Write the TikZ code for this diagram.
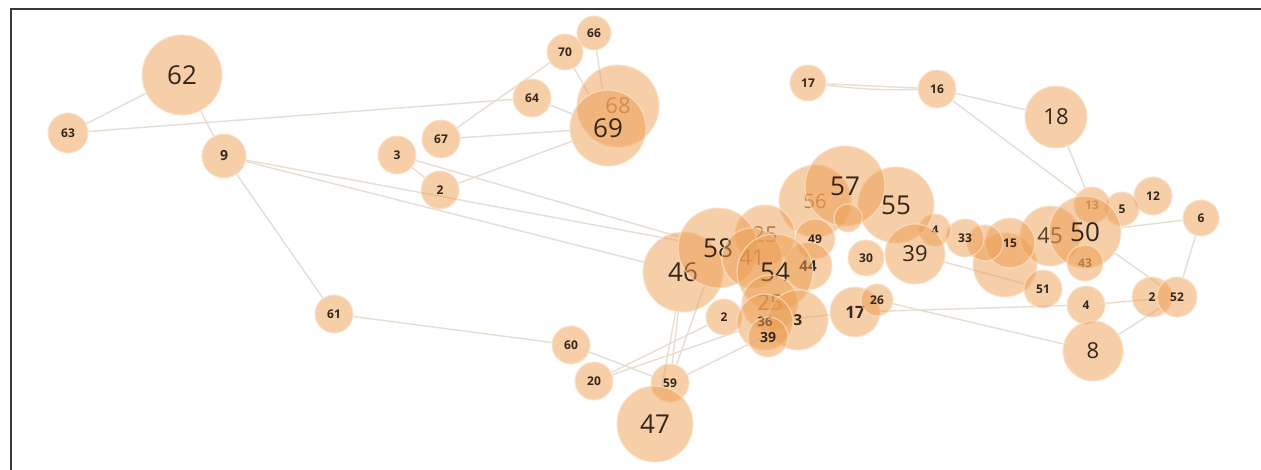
\documentclass[tikz,border=0pt]{standalone}
\usepackage{fontspec}
\setmainfont{Open Sans}
\usetikzlibrary{backgrounds}
\definecolor{nodefill}{HTML}{EE9E52}
\definecolor{ring}{HTML}{FBE3CC}
\definecolor{txt}{HTML}{35261A}
\definecolor{faint}{HTML}{B87A46}
\definecolor{edgecol}{HTML}{E7DED3}
\definecolor{framecol}{HTML}{3A3A3A}
\tikzset{
  nd/.style={circle, inner sep=0pt, fill=nodefill, fill opacity=0.5,
    draw=ring, draw opacity=0.7, line width=1.2pt, text=txt, text opacity=1,
    minimum size=#1},
  sm/.style={font=\fontsize{12}{12}\selectfont\bfseries},
  md/.style={font=\fontsize{22}{22}\selectfont},
  bg/.style={font=\fontsize{26}{26}\selectfont},
  ft/.style={text=faint},
  edge/.style={draw=edgecol, line width=1.4pt},
}
\begin{document}
\begin{tikzpicture}[x=1pt,y=-1pt]
\useasboundingbox (0,0) rectangle (1261,470);
% nodes
\node[nd=80,bg] (n62) at (182,75) {62};
\node[nd=40,sm] (n63) at (68,133) {63};
\node[nd=44,sm,font=\fontsize{14}{14}\selectfont\bfseries] (n9) at (224,156) {9};
\node[nd=38,sm] (n3) at (397,155) {3};
\node[nd=38,sm] (n67) at (441,139) {67};
\node[nd=38,sm] (n2a) at (440,190) {2};
\node[nd=38,sm] (n64) at (532,98) {64};
\node[nd=36,sm] (n70) at (565,52) {70};
\node[nd=34,sm] (n66) at (594,33) {66};
\node[nd=82,md,ft] (n68) at (618,106) {68};
\node[nd=76,bg] (n69) at (608,128) {69};
\node[nd=36,sm] (n17) at (808,83) {17};
\node[nd=38,sm] (n16) at (937,89) {16};
\node[nd=62,md] (n18) at (1056,117) {18};
\node[nd=38,sm] (n12) at (1153,196) {12};
\node[nd=36,sm] (n6) at (1201,218) {6};
\node[nd=34,sm] (n5) at (1122,209) {5};
\node[nd=36,sm,ft] (n13) at (1092,205) {13};
\node[nd=64] (n15b) at (1005,265) {};
\node[nd=60,md,text=txt!70!faint] (n45) at (1050,236) {45};
\node[nd=72,bg] (n50) at (1085,232) {50};
\node[nd=36,sm,ft] (n43) at (1085,263) {43};
\node[nd=50,sm] (n15) at (1010,243) {15};
\node[nd=36] (n32) at (985,243) {};
\node[nd=38,sm] (n33) at (965,238) {33};
\node[nd=32,sm] (n34) at (935,230) {4};
\node[nd=76,bg] (n55) at (896,205) {55};
\node[nd=60,md] (n39) at (915,254) {39};
\node[nd=72,bg,ft,font=\fontsize{20}{20}\selectfont] (n56) at (815,201) {56};
\node[nd=80,bg] (n57) at (845,186) {57};
\node[nd=28] (n48) at (848,218) {};
\node[nd=36,sm] (n30) at (866,258) {30};
\node[nd=40,sm] (n49) at (815,239) {49};
\node[nd=48,sm,font=\fontsize{15}{15}\selectfont\bfseries] (n44) at (808,266) {44};
\node[nd=60,md,ft] (n25) at (765,235) {25};
\node[nd=80,bg] (n46) at (683,272) {46};
\node[nd=80,bg] (n58) at (718,248) {58};
\node[nd=60,md,ft] (n41) at (752,258) {41};
\node[nd=76,bg] (n54) at (775,272) {54};
\node[nd=36,sm] (n2b) at (724,317) {2};
\node[nd=56,md,ft] (n25b) at (770,303) {25};
\node[nd=60,sm,font=\fontsize{15}{15}\selectfont\bfseries] (n35) at (798,320) {3};
\node[nd=56,sm,font=\fontsize{13}{13}\selectfont\bfseries] (n36) at (765,322) {36};
\node[nd=40,sm,font=\fontsize{14}{14}\selectfont\bfseries] (n39b) at (768,337) {39};
\node[nd=50,sm,font=\fontsize{17}{17}\selectfont\bfseries] (n17b) at (855,312) {17};
\node[nd=32,sm] (n26) at (877,300) {26};
\node[nd=38,sm] (n51) at (1043,289) {51};
\node[nd=38,sm] (n4) at (1086,305) {4};
\node[nd=60,md] (n8) at (1093,351) {8};
\node[nd=40,sm] (n2c) at (1152,297) {2};
\node[nd=40,sm] (n52) at (1177,297) {52};
\node[nd=38,sm] (n61) at (334,314) {61};
\node[nd=38,sm] (n60) at (571,345) {60};
\node[nd=38,sm] (n20) at (594,381) {20};
\node[nd=38,sm] (n59) at (670,383) {59};
\node[nd=76,bg] (n47) at (655,424) {47};
% edges
\begin{scope}[on background layer]
\fill[white] (0,0) rectangle (1261,470);
\draw[edge] (n62) -- (n63);
\draw[edge] (n62) -- (n9);
\draw[edge] (n63) -- (n64);
\draw[edge] (n64) -- (n69);
\draw[edge] (n67) -- (n70);
\draw[edge] (n70) -- (n69);
\draw[edge] (n66) -- (n69);
\draw[edge] (n67) -- (n69);
\draw[edge] (n2a) -- (n69);
\draw[edge] (n3) -- (n2a);
\draw[edge] (n3) -- (n58);
\draw[edge] (n9) -- (n58);
\draw[edge] (n9) -- (n46);
\draw[edge] (n9) -- (n61);
\draw[edge] (n61) -- (n60);
\draw[edge] (n60) -- (n59);
\draw[edge] (n20) -- (n2b);
\draw[edge] (n20) -- (n36);
\draw[edge] (n59) -- (n46);
\draw[edge] (n59) -- (n58);
\draw[edge] (n47) -- (n46);
\draw[edge] (n59) -- (n35);
\draw[edge] (n17) -- (n16);
\draw[edge] (n17) to[bend right=4] (n16);
\draw[edge] (n16) -- (n18);
\draw[edge] (n16) -- (n13);
\draw[edge] (n18) -- (n13);
\draw[edge] (n6) -- (n50);
\draw[edge] (n6) -- (n52);
\draw[edge] (n50) -- (n52);
\draw[edge] (n4) -- (n52);
\draw[edge] (n8) -- (n52);
\draw[edge] (n26) -- (n8);
\draw[edge] (n17b) -- (n4);
\draw[edge] (n39) -- (n51);
\draw[edge] (n36) -- (n17b);
\end{scope}
% frame
\draw[framecol, line width=2pt] (1261,9) -- (11,9) -- (11,470);
\end{tikzpicture}
\end{document}
